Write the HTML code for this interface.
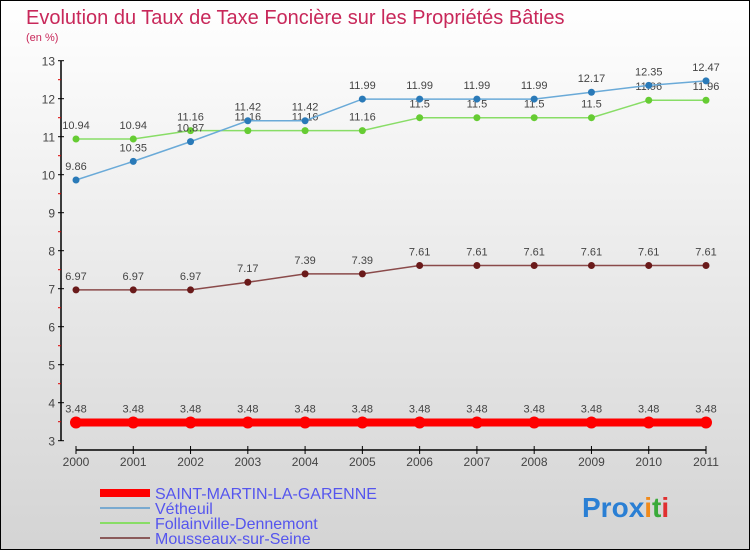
<!DOCTYPE html>
<html><head><meta charset="utf-8"><style>
body{margin:0}
#c{width:750px;height:550px;position:relative;box-sizing:border-box;border:1px solid #000;background:linear-gradient(#fff,#d4d4d4);font-family:"Liberation Sans",sans-serif;overflow:hidden}
</style></head><body>
<div id="c">
<svg id="s" width="750" height="550" style="position:absolute;left:-1px;top:-1px">
<text x="26" y="24" font-size="20" fill="#c8285a">Evolution du Taux de Taxe Foncière sur les Propriétés Bâties</text>
<text x="26" y="41" font-size="11" fill="#c8285a">(en %)</text>
<g id="axes"></g><g id="series"></g>
<g>
<line x1="100" y1="493" x2="150" y2="493" stroke="#f00" stroke-width="8"/>
<text x="155" y="499" font-size="16" fill="#5555ee">SAINT-MARTIN-LA-GARENNE</text>
<line x1="100" y1="508" x2="150" y2="508" stroke="#7aaad0" stroke-width="2"/>
<text x="155" y="514" font-size="16" fill="#5555ee">Vétheuil</text>
<line x1="100" y1="523" x2="150" y2="523" stroke="#88dd66" stroke-width="2"/>
<text x="155" y="529" font-size="16" fill="#5555ee">Follainville-Dennemont</text>
<line x1="100" y1="538" x2="150" y2="538" stroke="#8a5a5a" stroke-width="2"/>
<text x="155" y="544" font-size="16" fill="#5555ee">Mousseaux-sur-Seine</text>
</g>
<text x="582" y="517" font-size="28" font-weight="bold"><tspan fill="#2a7fd4">Pro</tspan><tspan fill="#2a7fd4">x</tspan><tspan fill="#f08a1a">i</tspan><tspan fill="#3aaa3a">t</tspan><tspan fill="#e03030">i</tspan></text>
</svg>
</div>
<script>
const years=[2000,2001,2002,2003,2004,2005,2006,2007,2008,2009,2010,2011];
const yTicks=[3,4,5,6,7,8,9,10,11,12,13];
const stMartin=[3.48,3.48,3.48,3.48,3.48,3.48,3.48,3.48,3.48,3.48,3.48,3.48];
const vetheuil=[9.86,10.35,10.87,11.42,11.42,11.99,11.99,11.99,11.99,12.17,12.35,12.47];
const follain=[10.94,10.94,11.16,11.16,11.16,11.16,11.5,11.5,11.5,11.5,11.96,11.96];
const mousseaux=[6.97,6.97,6.97,7.17,7.39,7.39,7.61,7.61,7.61,7.61,7.61,7.61];
const NS="http://www.w3.org/2000/svg";
function X(i){return 76+i*(706-76)/(years.length-1);}
function Y(v){return 288.7-(v-7)*38;}
function mk(t,a,p){const e=document.createElementNS(NS,t);for(const k in a)e.setAttribute(k,a[k]);p.appendChild(e);return e;}
const ax=document.getElementById('axes');
let e=mk('line',{x1:61,y1:Y(13),x2:61,y2:Y(3),stroke:'#000','stroke-width':1.5},ax);


yTicks.forEach(v=>{
 mk('line',{x1:58,y1:Y(v),x2:64,y2:Y(v),stroke:'#000'},ax);
 if(v<13)mk('line',{x1:58,y1:Y(v+0.5),x2:61,y2:Y(v+0.5),stroke:'#d00'},ax);
 const t=mk('text',{x:55,y:Y(v)+5,'font-size':12,fill:'#444','text-anchor':'end'},ax);t.textContent=v;
 
 
});
e=mk('line',{x1:X(0),y1:450,x2:X(11),y2:450,stroke:'#000','stroke-width':1.5},ax);


years.forEach((y,i)=>{
 mk('line',{x1:X(i),y1:446,x2:X(i),y2:454,stroke:'#000'},ax);
 const t=mk('text',{x:X(i),y:466,'font-size':12,fill:'#444','text-anchor':'middle'},ax);t.textContent=y;
 
 
});
const sg=document.getElementById('series');
function draw(vals,col,dot,w,r,name){
 const g=mk('g',{},sg);
 
 
 mk('polyline',{points:vals.map((v,i)=>X(i)+','+Y(v)).join(' '),fill:'none',stroke:col,'stroke-width':w},g);
 vals.forEach((v,i)=>{
  const c=mk('circle',{cx:X(i),cy:Y(v),r:r,fill:dot},g);
  
  
  const t=mk('text',{x:X(i),y:Y(v)-10,'font-size':11,fill:'#444','text-anchor':'middle'},g);t.textContent=v;
 });
}
draw(mousseaux,'#8a4a4a','#6a1a1a',1.5,3.5,'series-mousseaux');
draw(follain,'#88dd66','#66cc33',1.5,3.5,'series-follainville');
draw(vetheuil,'#6aaad8','#2a7ab8',1.5,3.5,'series-vetheuil');
draw(stMartin,'#f00','#f00',8,6,'series-saint-martin');
</script>
</body></html>
